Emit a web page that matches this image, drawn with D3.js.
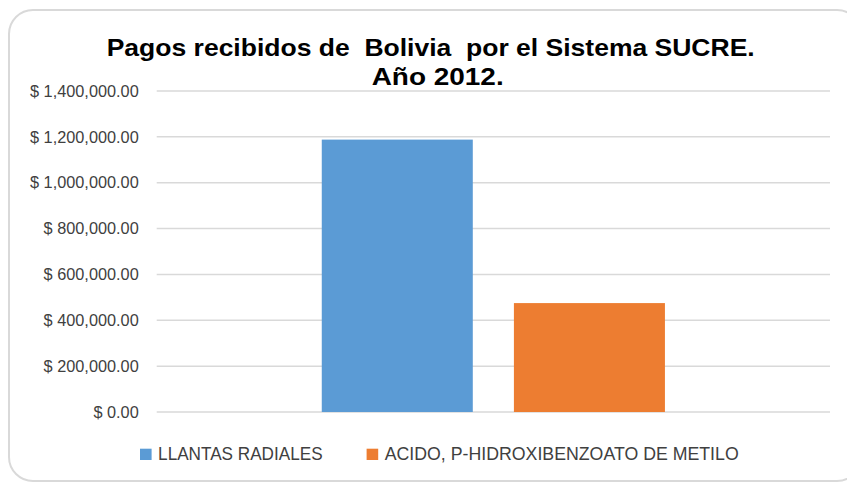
<!DOCTYPE html>
<html>
<head>
<meta charset="utf-8">
<script src="https://cdn.jsdelivr.net/npm/d3@7"></script>
<style>
  html, body { margin: 0; padding: 0; background: #ffffff; }
  svg { display: block; }
  text { white-space: pre; }
</style>
</head>
<body>
<svg id="chart" width="847" height="484"></svg>
<script>
// ---- data ----
const titleLines = ["Pagos recibidos de  Bolivia  por el Sistema SUCRE.", "Año 2012."];
const categories = [""];
const seriesNames = ["LLANTAS RADIALES", "ACIDO, P-HIDROXIBENZOATO DE METILO"];
const seriesValues = [1188000, 475000];
const seriesColors = ["#5B9BD5", "#ED7D31"];
const yTicks = [0, 200000, 400000, 600000, 800000, 1000000, 1200000, 1400000];

// ---- layout ----
const W = 847, H = 484;
const plot = { left: 156.7, right: 830, top: 91, bottom: 412 };
const svg = d3.select("#chart");

// background border
svg.append("rect")
  .attr("x", 9).attr("y", 10)
  .attr("width", 852).attr("height", 471)
  .attr("rx", 24).attr("ry", 24)
  .attr("fill", "#ffffff")
  .attr("stroke", "#d9d9d9").attr("stroke-width", 2);

const y = d3.scaleLinear().domain([0, 1400000]).range([plot.bottom, plot.top]);
const x0 = d3.scaleBand().domain(categories).range([plot.left, plot.right])
  .paddingInner(0).paddingOuter(0.481);
const x1 = d3.scaleBand().domain(seriesNames).range([0, x0.bandwidth()])
  .paddingInner(0.214).paddingOuter(0);

// gridlines
svg.append("g").selectAll("line").data(yTicks).join("line")
  .attr("x1", plot.left).attr("x2", plot.right)
  .attr("y1", d => y(d)).attr("y2", d => y(d))
  .attr("stroke", "#d9d9d9").attr("stroke-width", 1.5);

// y axis labels
const fmt = d3.format(",.2f");
const yAxis = d3.axisLeft(y).tickValues(yTicks).tickSize(0).tickPadding(18)
  .tickFormat(d => "$ " + fmt(d));
const gy = svg.append("g").attr("transform", `translate(${plot.left},0)`).call(yAxis);
gy.select(".domain").remove();
gy.selectAll("text")
  .attr("fill", "#404040")
  .style("font-family", "'Liberation Sans', Arial, sans-serif")
  .style("font-size", "16.3px");

// bars
const barData = seriesNames.map((s, i) => ({ cat: categories[0], s, v: seriesValues[i], c: seriesColors[i] }));
svg.append("g").selectAll("rect").data(barData).join("rect")
  .attr("x", d => x0(d.cat) + x1(d.s))
  .attr("width", x1.bandwidth())
  .attr("y", d => y(d.v))
  .attr("height", d => y(0) - y(d.v))
  .attr("fill", d => d.c);

// title
const titleStyle = { lens: [648, 132], xs: [106.7, 371.7], ys: [56, 85] };
svg.append("g").selectAll("text").data(titleLines).join("text")
  .attr("x", (d, i) => titleStyle.xs[i])
  .attr("y", (d, i) => titleStyle.ys[i])
  .attr("textLength", (d, i) => titleStyle.lens[i])
  .attr("lengthAdjust", "spacingAndGlyphs")
  .style("font-family", "'Liberation Sans', Arial, sans-serif")
  .style("font-weight", "bold")
  .style("font-size", "24.5px")
  .attr("fill", "#000000")
  .text(d => d);

// legend
const legendTextLens = [164.5, 354];
const sw = 11.6, swGap = 6.5, itemGap = 44;
const legendY = 460;
let lx = 140;
const legend = svg.append("g");
seriesNames.forEach((s, i) => {
  legend.append("rect")
    .attr("x", lx).attr("y", legendY - 11.3)
    .attr("width", sw).attr("height", 11.3)
    .attr("fill", seriesColors[i]);
  legend.append("text")
    .attr("x", lx + sw + swGap).attr("y", legendY)
    .attr("textLength", legendTextLens[i])
    .attr("lengthAdjust", "spacingAndGlyphs")
    .style("font-family", "'Liberation Sans', Arial, sans-serif")
    .style("font-size", "18.5px")
    .attr("fill", "#404040")
    .text(s);
  lx += sw + swGap + legendTextLens[i] + itemGap;
});
</script>
</body>
</html>
